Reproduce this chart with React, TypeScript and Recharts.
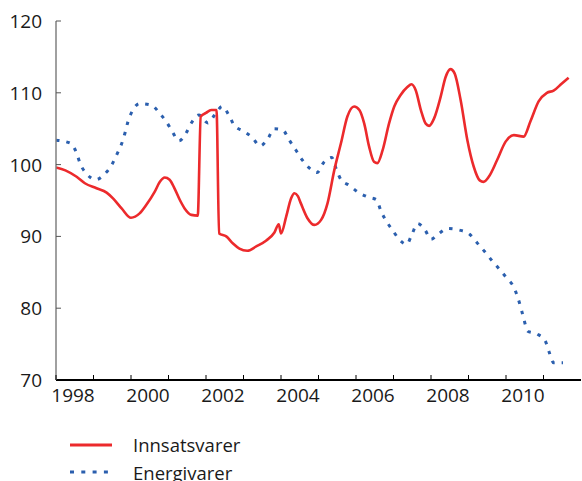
import React from "react";
import { LineChart, Line, XAxis, YAxis } from "recharts";

// decimal year + index value
const innsatsTid = [
  1998.0, 1998.25, 1998.55, 1998.77, 1999.08, 1999.35, 1999.52, 1999.75, 2000.0, 2000.23,
  2000.41, 2000.63, 2000.77, 2000.9, 2001.03, 2001.16, 2001.3, 2001.43, 2001.61, 2001.78,
  2001.86, 2002.0, 2002.14, 2002.28, 2002.35, 2002.54, 2002.72, 2002.89, 2003.1, 2003.34,
  2003.6, 2003.82, 2003.94, 2004.0, 2004.14, 2004.27, 2004.36, 2004.45, 2004.53, 2004.71,
  2004.89, 2005.07, 2005.24, 2005.42, 2005.6, 2005.77, 2005.95, 2006.09, 2006.22, 2006.35,
  2006.48, 2006.57, 2006.71, 2006.88, 2007.02, 2007.19, 2007.37, 2007.48, 2007.59, 2007.73,
  2007.86, 2007.95, 2008.08, 2008.26, 2008.39, 2008.52, 2008.63, 2008.79, 2008.97, 2009.14,
  2009.3, 2009.4, 2009.54, 2009.76, 2009.99, 2010.21, 2010.47, 2010.65, 2010.87, 2011.09,
  2011.27, 2011.49, 2011.67,
];
const innsatsVerdi = [
  99.6, 99.2, 98.3, 97.4, 96.7, 96.1, 95.3, 93.9, 92.6, 93.2,
  94.4, 96.2, 97.6, 98.2, 97.9, 96.7, 95.1, 93.9, 93.0, 92.9,
  106.7, 107.2, 107.6, 107.6, 90.4, 90.0, 89.0, 88.3, 88.0, 88.6,
  89.4, 90.5, 91.7, 90.4, 92.8, 95.3, 96.0, 95.6, 94.6, 92.5,
  91.6, 92.3, 94.6, 99.2, 103.0, 106.7, 108.1, 107.6, 105.7, 102.5,
  100.4, 100.2, 102.0, 105.7, 108.1, 109.7, 110.8, 111.2, 110.4, 107.6,
  105.7, 105.4, 106.4, 109.5, 112.2, 113.3, 112.7, 109.0, 103.4, 99.7,
  97.8, 97.6, 98.3, 100.6, 103.2, 104.1, 103.9, 106.0, 108.8, 110.0,
  110.3, 111.3, 112.1,
];

const energiTid = [
  1998.0, 1998.37, 1998.55, 1998.64, 1998.82, 1999.06, 1999.3, 1999.48, 1999.63, 1999.75,
  1999.84, 1999.92, 2000.04, 2000.23, 2000.54, 2000.77, 2000.94, 2001.1, 2001.28, 2001.46,
  2001.61, 2001.81, 2002.05, 2002.23, 2002.43, 2002.61, 2002.76, 2002.98, 2003.23, 2003.44,
  2003.65, 2003.82, 2004.05, 2004.22, 2004.4, 2004.56, 2004.76, 2004.96, 2005.14, 2005.35,
  2005.48, 2005.6, 2005.82, 2006.07, 2006.31, 2006.55, 2006.66, 2006.8, 2006.97, 2007.15,
  2007.35, 2007.5, 2007.64, 2007.84, 2008.0, 2008.21, 2008.45, 2008.74, 2009.03, 2009.23,
  2009.43, 2009.63, 2009.83, 2010.02, 2010.21, 2010.32, 2010.41, 2010.48, 2010.58, 2010.83,
  2011.05, 2011.15, 2011.27, 2011.52,
];
const energiVerdi = [
  103.4, 103.0, 101.6, 100.2, 98.7, 97.9, 98.7, 99.9, 101.5, 102.9,
  104.4, 106.0, 107.5, 108.5, 108.3, 107.1, 106.0, 104.6, 103.3, 104.3,
  105.8, 106.9, 105.8, 106.9, 108.1, 106.9, 105.4, 104.7, 103.8, 102.6,
  103.6, 105.0, 104.8, 103.4, 102.0, 100.7, 99.5, 98.9, 100.3, 101.0,
  99.3, 97.9, 97.1, 96.1, 95.5, 95.1, 93.6, 92.2, 90.9, 89.6,
  88.9, 90.4, 91.8, 90.9, 89.6, 90.4, 91.1, 90.9, 90.3, 89.1,
  87.9, 86.6, 85.4, 84.2, 82.9, 81.4, 79.8, 78.4, 76.8, 76.4,
  75.4, 73.9, 72.4, 72.4,
];

const aarTicks = [1998, 1999, 2000, 2001, 2002, 2003, 2004, 2005, 2006, 2007, 2008, 2009, 2010, 2011];
const verdiTicks = [70, 80, 90, 100, 110, 120];

const innsats = innsatsTid.map((t, i) => ({ t, v: innsatsVerdi[i] }));
const energi = energiTid.map((t, i) => ({ t, v: energiVerdi[i] }));

const FONT = "'Open Sans', sans-serif";
const RED = "#ec2a2c";
const BLUE = "#2b5fae";

const XTick = (props: any) => {
  const { x, y, payload } = props;
  const yr = payload.value;
  return (
    <g>
      <line x1={x} x2={x} y1={y} y2={y - 5} stroke="#000" strokeWidth={1} />
      {yr % 2 === 0 && (
        <text x={x + 17} y={y + 22} textAnchor="middle" fontSize={19} fontFamily={FONT} fill="#1a1a1a">
          {yr}
        </text>
      )}
    </g>
  );
};

const YTick = (props: any) => {
  const { x, y, payload } = props;
  return (
    <g>
      {payload.value !== 70 && <line x1={x} x2={x + 5} y1={y} y2={y} stroke="#555" strokeWidth={1} />}
      <text x={x - 14} y={y + 7} textAnchor="end" fontSize={19} fontFamily={FONT} fill="#1a1a1a">
        {payload.value}
      </text>
    </g>
  );
};

export default function App() {
  return (
    <div style={{ position: "absolute", left: 0, top: 0, width: 582, height: 481, background: "#fff" }}>
      <LineChart width={582} height={481} margin={{ top: 21, right: 1, bottom: 81, left: 0 }}>
        <XAxis
          dataKey="t"
          type="number"
          domain={[1998, 2012]}
          ticks={aarTicks}
          interval={0}
          allowDataOverflow
          height={20}
          tickSize={0}
          tickMargin={0}
          tickLine={false}
          axisLine={{ stroke: "#000", strokeWidth: 2 }}
          tick={<XTick />}
        />
        <YAxis
          type="number"
          domain={[70, 120]}
          ticks={verdiTicks}
          interval={0}
          width={56}
          tickSize={0}
          tickMargin={0}
          tickLine={false}
          axisLine={{ stroke: "#808080", strokeWidth: 1.5 }}
          tick={<YTick />}
        />
        <Line
          data={energi}
          dataKey="v"
          type="monotone"
          stroke={BLUE}
          strokeWidth={3}
          strokeDasharray="3.5 7"
          dot={false}
          isAnimationActive={false}
        />
        <Line
          data={innsats}
          dataKey="v"
          type="monotone"
          stroke={RED}
          strokeWidth={2.6}
          dot={false}
          isAnimationActive={false}
        />
      </LineChart>
      <svg width={582} height={81} style={{ position: "absolute", left: 0, top: 400 }}>
        <line x1={70} x2={112} y1={45} y2={45} stroke={RED} strokeWidth={3} />
        <text x={133} y={52} fontSize={18.5} fontFamily={FONT} fill="#1a1a1a">Innsatsvarer</text>
        <line x1={70} x2={112} y1={72} y2={72} stroke={BLUE} strokeWidth={3} strokeDasharray="4 7.3" />
        <text x={133} y={80} fontSize={18.5} fontFamily={FONT} fill="#1a1a1a">Energivarer</text>
      </svg>
    </div>
  );
}
